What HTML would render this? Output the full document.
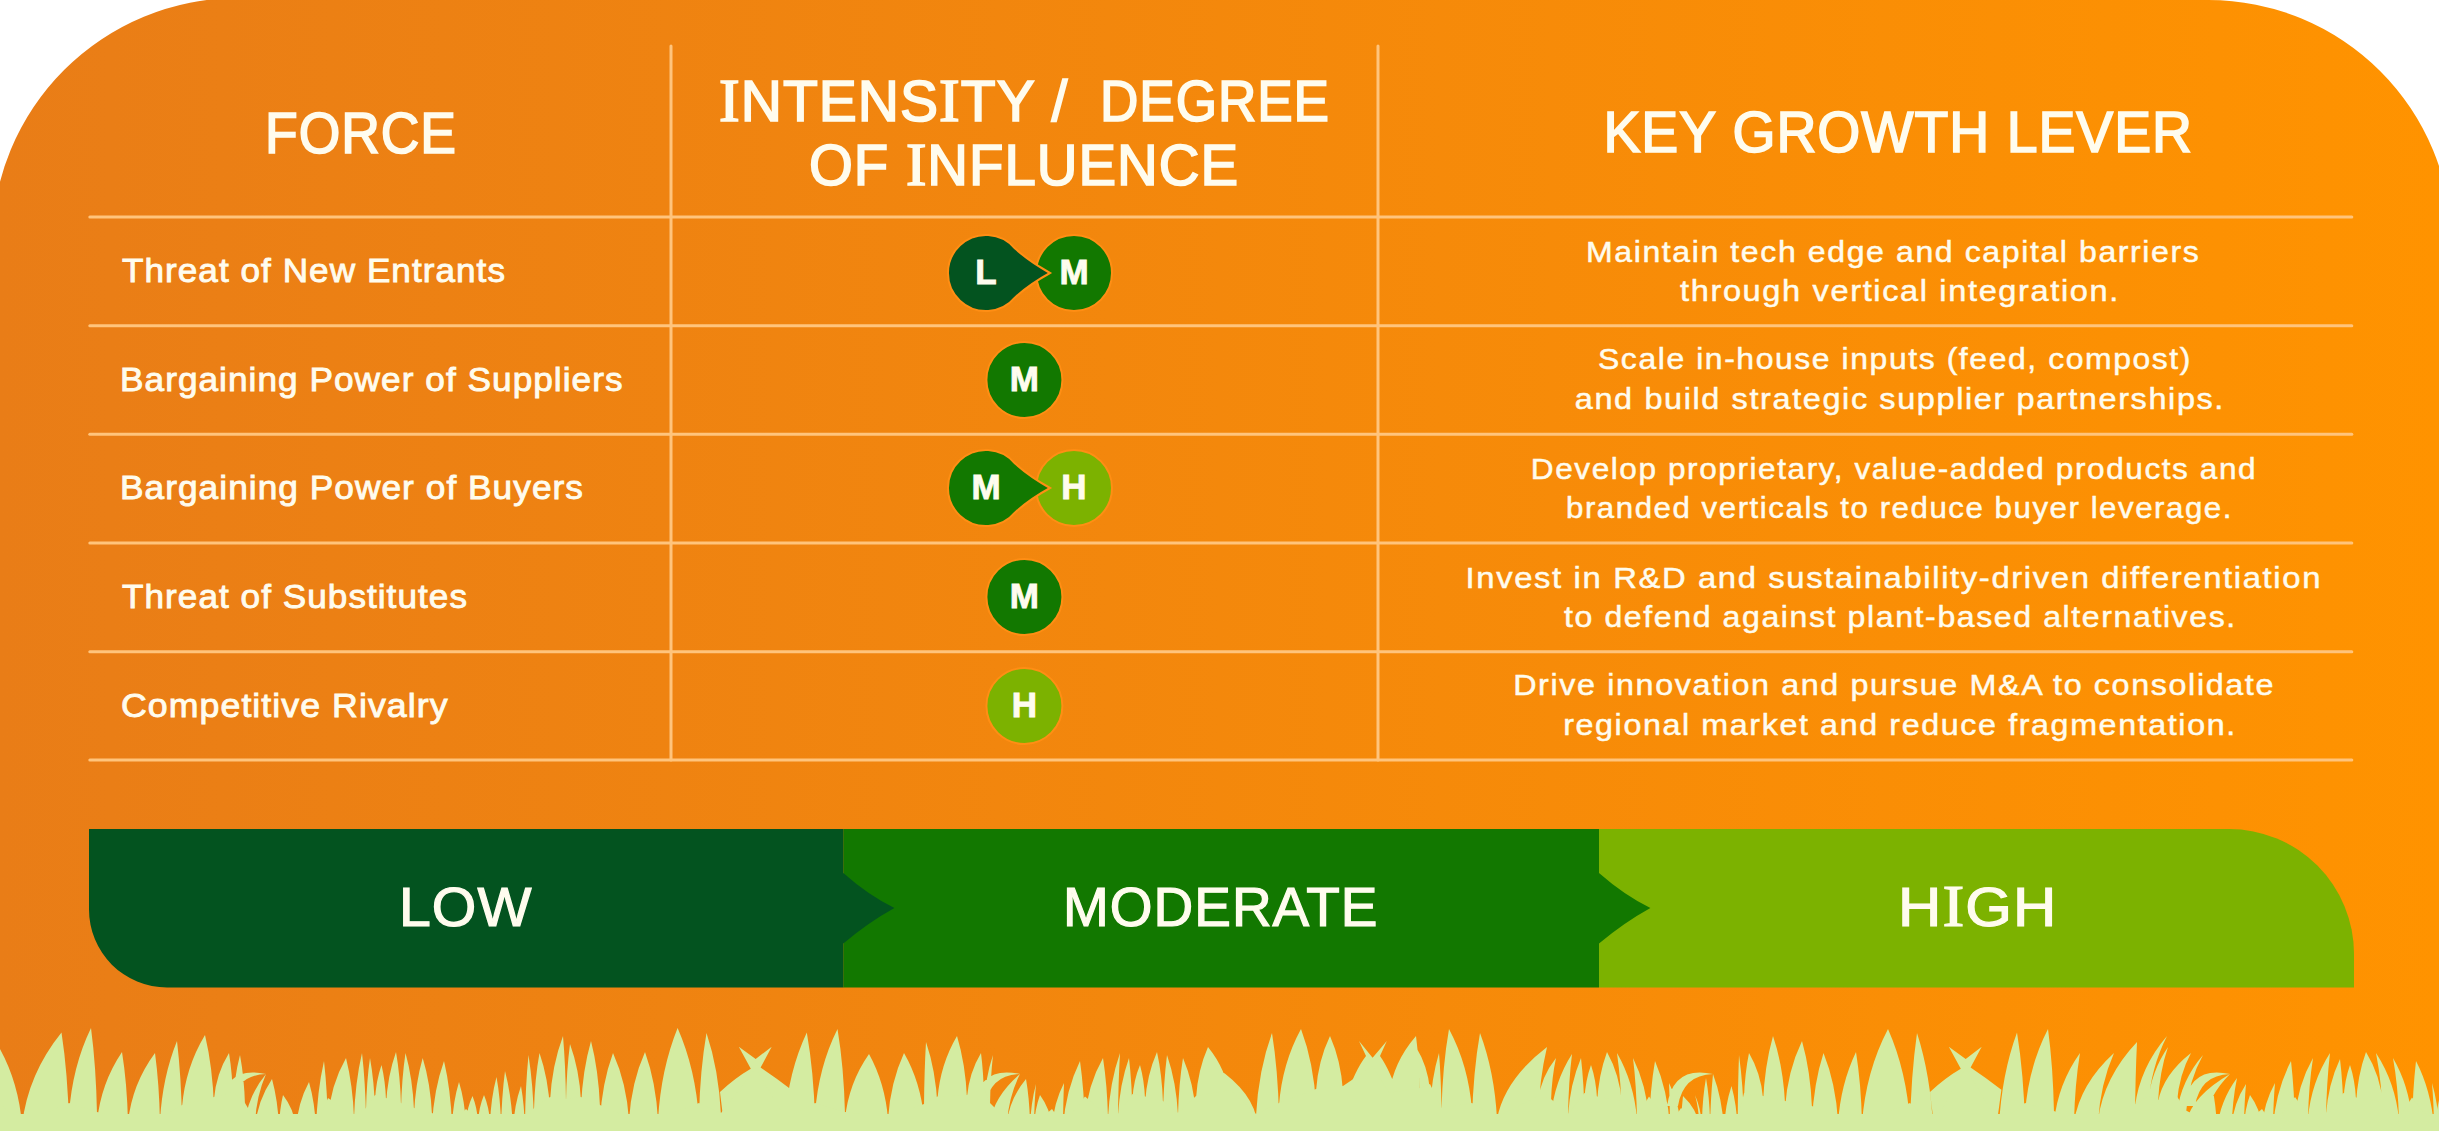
<!DOCTYPE html>
<html><head><meta charset="utf-8"><title>Porter's Five Forces</title>
<style>
html,body{margin:0;padding:0;background:#fff;}
body{width:2439px;height:1131px;overflow:hidden;position:relative;}
svg{position:absolute;left:0;top:0;display:block;}
text{font-family:'Liberation Sans', sans-serif;}
</style></head><body>
<svg width="2439" height="1131" viewBox="0 0 2439 1131">
<defs>
<linearGradient id="bg" x1="0" y1="0" x2="2439" y2="0" gradientUnits="userSpaceOnUse">
<stop offset="0" stop-color="#E97D17"/><stop offset="1" stop-color="#FF9300"/>
</linearGradient>
</defs>

<path d="M -8 244 A 246 246 0 0 1 238 -2 L 2208.5 0 A 243 243 0 0 1 2451.5 243 L 2451.5 1131 L -8 1131 Z" fill="url(#bg)"/>
<line x1="89.8" y1="217" x2="2351.8" y2="217" stroke="#FFC47C" stroke-width="3" stroke-linecap="round"/>
<line x1="89.8" y1="325.7" x2="2351.8" y2="325.7" stroke="#FFC47C" stroke-width="3" stroke-linecap="round"/>
<line x1="89.8" y1="434.3" x2="2351.8" y2="434.3" stroke="#FFC47C" stroke-width="3" stroke-linecap="round"/>
<line x1="89.8" y1="543" x2="2351.8" y2="543" stroke="#FFC47C" stroke-width="3" stroke-linecap="round"/>
<line x1="89.8" y1="651.7" x2="2351.8" y2="651.7" stroke="#FFC47C" stroke-width="3" stroke-linecap="round"/>
<line x1="89.8" y1="760" x2="2351.8" y2="760" stroke="#FFC47C" stroke-width="3" stroke-linecap="round"/>
<line x1="671" y1="46" x2="671" y2="760" stroke="#FFC47C" stroke-width="3" stroke-linecap="round"/>
<line x1="1378" y1="46" x2="1378" y2="760" stroke="#FFC47C" stroke-width="3" stroke-linecap="round"/>
<circle cx="1074" cy="273" r="38" fill="#127800" stroke="#FF8E14" stroke-width="2"/>
<path d="M 1015.1 248.6 Q 1030 262 1050 273 Q 1030 284 1015.1 297.4 A 38 38 0 1 1 1015.1 248.6 Z" fill="#03531F" stroke="#FF8E14" stroke-width="2"/>
<text x="986" y="284" font-size="35" text-anchor="middle" font-weight="700" fill="#FFFCEE" stroke="#FFFCEE" stroke-width="0.9">L</text>
<text x="1074" y="284" font-size="35" text-anchor="middle" font-weight="700" fill="#FFFCEE" stroke="#FFFCEE" stroke-width="0.9">M</text>
<circle cx="1024.4" cy="380" r="38" fill="#127800" stroke="#FF8E14" stroke-width="2"/>
<text x="1024.4" y="391" font-size="35" text-anchor="middle" font-weight="700" fill="#FFFCEE" stroke="#FFFCEE" stroke-width="0.9">M</text>
<circle cx="1074" cy="488" r="38" fill="#7CB200" stroke="#FF8E14" stroke-width="2"/>
<path d="M 1015.1 463.6 Q 1030 477 1050 488 Q 1030 499 1015.1 512.4 A 38 38 0 1 1 1015.1 463.6 Z" fill="#127800" stroke="#FF8E14" stroke-width="2"/>
<text x="986" y="499" font-size="35" text-anchor="middle" font-weight="700" fill="#FFFCEE" stroke="#FFFCEE" stroke-width="0.9">M</text>
<text x="1074" y="499" font-size="35" text-anchor="middle" font-weight="700" fill="#FFFCEE" stroke="#FFFCEE" stroke-width="0.9">H</text>
<circle cx="1024.4" cy="597" r="38" fill="#127800" stroke="#FF8E14" stroke-width="2"/>
<text x="1024.4" y="608" font-size="35" text-anchor="middle" font-weight="700" fill="#FFFCEE" stroke="#FFFCEE" stroke-width="0.9">M</text>
<circle cx="1024.4" cy="706" r="38" fill="#7CB200" stroke="#FF8E14" stroke-width="2"/>
<text x="1024.4" y="717" font-size="35" text-anchor="middle" font-weight="700" fill="#FFFCEE" stroke="#FFFCEE" stroke-width="0.9">H</text>
<path d="M 1599 829 L 2229 829 A 125 125 0 0 1 2354 954 L 2354 987.5 L 1599 987.5 Z" fill="#7CB200"/>
<path d="M 843.3 829 L 1599 829 L 1599 872.9 Q 1624.4 895.2 1650.4 907.9 Q 1624.4 922.2 1599 943.4 L 1599 987.5 L 843.3 987.5 Z" fill="#127800"/>
<path d="M 89 829 L 843.3 829 L 843.3 872.9 Q 868.4 895.2 894.4 907.9 Q 868.4 922.2 843.3 943.4 L 843.3 987.5 L 167 987.5 A 78 78 0 0 1 89 909.5 Z" fill="#03531F"/>
<text id="h1" x="265.00" y="153" font-size="57" font-weight="400" fill="#FFFCEE" stroke="#FFFCEE" stroke-width="1.7" letter-spacing="1.0" textLength="192.00" lengthAdjust="spacingAndGlyphs">FORCE</text>
<text id="h2a" x="719.00" y="120.6" font-size="57" font-weight="400" fill="#FFFCEE" stroke="#FFFCEE" stroke-width="1.7" letter-spacing="1.0" textLength="349.40" lengthAdjust="spacingAndGlyphs"><tspan font-family="Liberation Serif" font-size="62">I</tspan>NTENS<tspan font-family="Liberation Serif" font-size="62">I</tspan>TY /</text>
<text id="h2b" x="1100.00" y="120.6" font-size="57" font-weight="400" fill="#FFFCEE" stroke="#FFFCEE" stroke-width="1.7" letter-spacing="1.0" textLength="230.00" lengthAdjust="spacingAndGlyphs">DEGREE</text>
<text id="h3" x="809.00" y="185" font-size="57" font-weight="400" fill="#FFFCEE" stroke="#FFFCEE" stroke-width="1.7" letter-spacing="1.0" textLength="430.00" lengthAdjust="spacingAndGlyphs">OF <tspan font-family="Liberation Serif" font-size="62">I</tspan>NFLUENCE</text>
<text id="h4" x="1603.40" y="152.3" font-size="57" font-weight="400" fill="#FFFCEE" stroke="#FFFCEE" stroke-width="1.7" letter-spacing="1.0" textLength="589.60" lengthAdjust="spacingAndGlyphs">KEY GROWTH LEVER</text>
<text id="l1" x="122.00" y="281.8" font-size="34" font-weight="400" fill="#FFFCEE" stroke="#FFFCEE" stroke-width="0.9" letter-spacing="1.0" textLength="384.00" lengthAdjust="spacingAndGlyphs">Threat of New Entrants</text>
<text id="l2" x="120.00" y="391" font-size="34" font-weight="400" fill="#FFFCEE" stroke="#FFFCEE" stroke-width="0.9" letter-spacing="1.0" textLength="503.60" lengthAdjust="spacingAndGlyphs">Bargaining Power of Suppliers</text>
<text id="l3" x="120.00" y="498.6" font-size="34" font-weight="400" fill="#FFFCEE" stroke="#FFFCEE" stroke-width="0.9" letter-spacing="1.0" textLength="464.00" lengthAdjust="spacingAndGlyphs">Bargaining Power of Buyers</text>
<text id="l4" x="122.00" y="607.8" font-size="34" font-weight="400" fill="#FFFCEE" stroke="#FFFCEE" stroke-width="0.9" letter-spacing="1.0" textLength="346.00" lengthAdjust="spacingAndGlyphs">Threat of Substitutes</text>
<text id="l5" x="121.00" y="716.6" font-size="34" font-weight="400" fill="#FFFCEE" stroke="#FFFCEE" stroke-width="0.9" letter-spacing="1.0" textLength="327.60" lengthAdjust="spacingAndGlyphs">Competitive Rivalry</text>
<text id="r1a" x="1586.00" y="261.5" font-size="30" font-weight="400" fill="#FFFCEE" stroke="#FFFCEE" stroke-width="0.5" letter-spacing="1.5" textLength="614.40" lengthAdjust="spacingAndGlyphs">Maintain tech edge and capital barriers</text>
<text id="r1b" x="1680.00" y="300.7" font-size="30" font-weight="400" fill="#FFFCEE" stroke="#FFFCEE" stroke-width="0.5" letter-spacing="1.5" textLength="440.00" lengthAdjust="spacingAndGlyphs">through vertical integration.</text>
<text id="r2a" x="1598.00" y="369.2" font-size="30" font-weight="400" fill="#FFFCEE" stroke="#FFFCEE" stroke-width="0.5" letter-spacing="1.5" textLength="594.00" lengthAdjust="spacingAndGlyphs">Scale in-house inputs (feed, compost)</text>
<text id="r2b" x="1574.80" y="408.8" font-size="30" font-weight="400" fill="#FFFCEE" stroke="#FFFCEE" stroke-width="0.5" letter-spacing="1.5" textLength="650.20" lengthAdjust="spacingAndGlyphs">and build strategic supplier partnerships.</text>
<text id="r3a" x="1530.80" y="479" font-size="30" font-weight="400" fill="#FFFCEE" stroke="#FFFCEE" stroke-width="0.5" letter-spacing="1.5" textLength="726.40" lengthAdjust="spacingAndGlyphs">Develop proprietary, value-added products and</text>
<text id="r3b" x="1566.00" y="517.8" font-size="30" font-weight="400" fill="#FFFCEE" stroke="#FFFCEE" stroke-width="0.5" letter-spacing="1.5" textLength="667.00" lengthAdjust="spacingAndGlyphs">branded verticals to reduce buyer leverage.</text>
<text id="r4a" x="1465.60" y="587.8" font-size="30" font-weight="400" fill="#FFFCEE" stroke="#FFFCEE" stroke-width="0.5" letter-spacing="1.5" textLength="856.40" lengthAdjust="spacingAndGlyphs">Invest in R&amp;D and sustainability-driven differentiation</text>
<text id="r4b" x="1564.00" y="626.8" font-size="30" font-weight="400" fill="#FFFCEE" stroke="#FFFCEE" stroke-width="0.5" letter-spacing="1.5" textLength="672.80" lengthAdjust="spacingAndGlyphs">to defend against plant-based alternatives.</text>
<text id="r5a" x="1513.20" y="695.4" font-size="30" font-weight="400" fill="#FFFCEE" stroke="#FFFCEE" stroke-width="0.5" letter-spacing="1.5" textLength="761.80" lengthAdjust="spacingAndGlyphs">Drive innovation and pursue M&amp;A to consolidate</text>
<text id="r5b" x="1563.20" y="735.4" font-size="30" font-weight="400" fill="#FFFCEE" stroke="#FFFCEE" stroke-width="0.5" letter-spacing="1.5" textLength="673.60" lengthAdjust="spacingAndGlyphs">regional market and reduce fragmentation.</text>
<text id="g1" x="399.00" y="926" font-size="55" font-weight="400" fill="#FFFCEE" stroke="#FFFCEE" stroke-width="1.2" letter-spacing="1.0" textLength="133.40" lengthAdjust="spacingAndGlyphs">LOW</text>
<text id="g2" x="1063.00" y="926" font-size="55" font-weight="400" fill="#FFFCEE" stroke="#FFFCEE" stroke-width="1.2" letter-spacing="1.0" textLength="315.40" lengthAdjust="spacingAndGlyphs">MODERATE</text>
<text id="g3" x="1898.00" y="926" font-size="55" font-weight="400" fill="#FFFCEE" stroke="#FFFCEE" stroke-width="1.2" letter-spacing="1.0" textLength="159.40" lengthAdjust="spacingAndGlyphs">H<tspan font-family="Liberation Serif" font-size="60">I</tspan>GH</text>
<path d="M-10.0 1125.0Q-8.5 1083.2 0.0 1049.0Q18.7 1083.2 22.0 1125.0ZM22.0 1125.0Q27.9 1074.1 61.5 1032.5Q67.9 1074.1 69.0 1125.0ZM69.0 1114.0Q72.3 1066.7 91.0 1028.0Q96.1 1066.7 97.0 1114.0ZM97.0 1122.0Q100.8 1083.5 122.0 1052.0Q127.1 1083.5 128.0 1122.0ZM128.0 1122.0Q132.1 1084.0 155.0 1053.0Q159.2 1084.0 160.0 1122.0ZM160.0 1120.0Q162.6 1076.5 177.0 1041.0Q181.2 1076.5 182.0 1120.0ZM182.0 1107.0Q185.4 1067.4 205.0 1035.0Q212.7 1067.4 214.0 1107.0ZM214.0 1099.0Q216.2 1073.7 229.0 1053.0Q232.4 1073.7 233.0 1099.0ZM233.0 1105.0Q234.1 1077.5 240.0 1055.0Q244.2 1077.5 245.0 1105.0ZM245.0 1122.0Q248.2 1095.6 266.0 1074.0Q256.6 1095.6 255.0 1122.0ZM255.0 1127.0Q257.6 1100.6 272.0 1079.0Q277.9 1100.6 279.0 1127.0ZM279.0 1127.0Q279.6 1109.4 283.0 1095.0Q294.1 1109.4 296.0 1127.0ZM296.0 1128.0Q297.9 1102.7 309.0 1082.0Q314.9 1102.7 316.0 1128.0ZM316.0 1128.0Q317.2 1091.2 324.0 1061.0Q327.4 1091.2 328.0 1128.0ZM328.0 1118.0Q330.7 1085.0 346.0 1058.0Q352.8 1085.0 354.0 1118.0ZM354.0 1118.0Q355.2 1082.2 362.0 1053.0Q365.4 1082.2 366.0 1118.0ZM366.0 1110.0Q366.6 1081.4 370.0 1058.0Q374.2 1081.4 375.0 1110.0ZM375.0 1100.0Q376.0 1080.8 381.5 1065.0Q385.3 1080.8 386.0 1100.0ZM386.0 1105.0Q387.5 1075.8 396.0 1052.0Q400.2 1075.8 401.0 1105.0ZM401.0 1110.0Q401.7 1078.7 405.5 1053.0Q412.7 1078.7 414.0 1110.0ZM414.0 1115.0Q415.3 1083.7 422.7 1058.0Q430.6 1083.7 432.0 1115.0ZM432.0 1125.0Q433.8 1089.8 444.0 1061.0Q450.8 1089.8 452.0 1125.0ZM452.0 1125.0Q453.1 1101.3 459.0 1082.0Q464.9 1101.3 466.0 1125.0ZM466.0 1122.0Q467.0 1107.7 472.5 1096.0Q477.2 1107.7 478.0 1122.0ZM478.0 1122.0Q478.9 1107.2 484.0 1095.0Q489.1 1107.2 490.0 1122.0ZM490.0 1123.0Q491.0 1097.7 496.5 1077.0Q500.3 1097.7 501.0 1123.0ZM501.0 1129.0Q501.6 1097.1 505.0 1071.0Q511.8 1097.1 513.0 1129.0ZM513.0 1129.0Q514.2 1105.3 521.0 1086.0Q524.4 1105.3 525.0 1129.0ZM525.0 1122.0Q525.5 1085.2 528.5 1055.0Q533.2 1085.2 534.0 1122.0ZM534.0 1110.0Q534.8 1078.7 539.5 1053.0Q548.4 1078.7 550.0 1110.0ZM550.0 1101.0Q552.0 1065.2 563.0 1036.0Q565.5 1065.2 566.0 1101.0ZM566.0 1101.0Q566.6 1069.7 570.0 1044.0Q579.4 1069.7 581.0 1101.0ZM581.0 1107.0Q582.5 1070.7 591.0 1041.0Q598.6 1070.7 600.0 1107.0ZM600.0 1120.0Q602.0 1083.2 613.0 1053.0Q626.6 1083.2 629.0 1120.0ZM629.0 1120.0Q631.4 1082.6 645.0 1052.0Q656.0 1082.6 658.0 1120.0ZM658.0 1120.0Q660.9 1069.4 677.6 1028.0Q695.8 1069.4 699.0 1120.0ZM699.0 1115.0Q700.1 1069.9 706.5 1033.0Q718.8 1069.9 721.0 1115.0ZM785.0 1120.0Q788.3 1071.9 806.8 1032.5Q813.8 1071.9 815.0 1120.0ZM815.0 1114.0Q818.4 1067.2 837.5 1029.0Q843.9 1067.2 845.0 1114.0ZM845.0 1119.0Q848.6 1083.2 869.0 1054.0Q885.1 1083.2 888.0 1119.0ZM888.0 1119.0Q890.4 1082.7 904.0 1053.0Q921.0 1082.7 924.0 1119.0ZM924.0 1106.0Q924.3 1070.8 926.0 1042.0Q935.8 1070.8 937.5 1106.0ZM937.5 1098.5Q940.4 1064.1 957.0 1036.0Q965.5 1064.1 967.0 1098.5ZM967.0 1097.0Q969.1 1072.8 981.0 1053.0Q983.5 1072.8 984.0 1097.0ZM984.0 1105.0Q985.4 1077.5 993.0 1055.0Q990.5 1077.5 990.0 1105.0ZM990.0 1122.0Q994.5 1095.6 1020.0 1074.0Q1009.0 1095.6 1007.0 1122.0ZM1007.0 1122.0Q1009.9 1098.3 1026.0 1079.0Q1029.4 1098.3 1030.0 1122.0ZM1030.0 1126.0Q1030.9 1102.9 1036.0 1084.0Q1034.3 1102.9 1034.0 1126.0ZM1034.0 1126.0Q1034.9 1109.0 1040.0 1095.0Q1050.2 1109.0 1052.0 1126.0ZM1052.0 1127.0Q1053.8 1102.8 1064.0 1083.0Q1063.2 1102.8 1063.0 1127.0ZM1063.0 1127.0Q1065.5 1090.7 1080.0 1061.0Q1084.2 1090.7 1085.0 1127.0ZM1085.0 1118.0Q1087.7 1085.0 1103.0 1058.0Q1107.2 1085.0 1108.0 1118.0ZM1108.0 1118.0Q1109.8 1082.2 1120.0 1053.0Q1118.3 1082.2 1118.0 1118.0ZM1118.0 1116.0Q1119.7 1084.1 1129.0 1058.0Q1132.0 1084.1 1132.5 1116.0ZM1132.5 1098.5Q1133.6 1080.1 1140.0 1065.0Q1144.2 1080.1 1145.0 1098.5ZM1145.0 1103.0Q1146.8 1075.0 1157.0 1052.0Q1162.1 1075.0 1163.0 1103.0ZM1163.0 1115.0Q1163.6 1082.0 1167.0 1055.0Q1176.3 1082.0 1178.0 1115.0ZM1178.0 1115.0Q1178.8 1083.7 1183.0 1058.0Q1194.0 1083.7 1196.0 1115.0ZM1196.0 1098.0Q1197.8 1070.0 1208.0 1047.0Q1226.7 1070.0 1230.0 1098.0ZM1230.0 1116.0Q1226.4 1085.8 1206.0 1061.0Q1248.5 1085.8 1256.0 1116.0ZM1256.0 1116.0Q1258.4 1070.3 1272.0 1033.0Q1278.0 1070.3 1279.0 1116.0ZM1279.0 1105.0Q1282.3 1063.2 1301.0 1029.0Q1313.8 1063.2 1316.0 1105.0ZM1316.0 1091.0Q1318.1 1060.8 1330.0 1036.0Q1341.0 1060.8 1343.0 1091.0ZM1389.0 1095.0Q1393.0 1062.5 1416.0 1036.0Q1419.4 1062.5 1420.0 1095.0ZM1420.0 1090.0Q1419.4 1066.3 1416.0 1047.0Q1427.9 1066.3 1430.0 1090.0ZM1430.0 1110.0Q1431.3 1078.7 1439.0 1053.0Q1441.1 1078.7 1441.5 1110.0ZM1441.5 1110.0Q1442.6 1065.5 1449.0 1029.0Q1468.5 1065.5 1472.0 1110.0ZM1472.0 1119.0Q1473.2 1071.7 1480.0 1033.0Q1494.5 1071.7 1497.0 1119.0ZM1497.0 1119.0Q1504.5 1079.4 1547.0 1047.0Q1539.3 1079.4 1538.0 1119.0ZM1538.0 1101.0Q1540.7 1077.3 1556.0 1058.0Q1551.8 1077.3 1551.0 1101.0ZM1551.0 1116.0Q1554.2 1081.9 1572.0 1054.0Q1568.6 1081.9 1568.0 1116.0ZM1568.0 1116.0Q1570.0 1084.1 1581.0 1058.0Q1584.0 1084.1 1584.5 1116.0ZM1584.5 1098.5Q1585.5 1080.1 1591.0 1065.0Q1596.1 1080.1 1597.0 1098.5ZM1597.0 1103.0Q1598.5 1075.0 1607.0 1052.0Q1619.8 1075.0 1622.0 1103.0ZM1622.0 1119.0Q1621.2 1082.7 1617.0 1053.0Q1634.0 1082.7 1637.0 1119.0ZM1637.0 1119.0Q1636.4 1085.5 1633.0 1058.0Q1646.6 1085.5 1649.0 1119.0ZM1649.0 1127.0Q1649.9 1090.7 1655.0 1061.0Q1667.8 1090.7 1670.0 1127.0ZM1670.0 1127.0Q1669.8 1102.8 1669.0 1083.0Q1679.2 1102.8 1681.0 1127.0ZM1681.0 1125.5Q1681.3 1109.3 1683.0 1096.0Q1697.0 1109.3 1699.5 1125.5ZM1699.5 1125.5Q1698.8 1108.7 1695.0 1095.0Q1701.0 1108.7 1702.0 1125.5ZM1702.0 1120.0Q1702.6 1096.9 1706.0 1078.0Q1709.4 1096.9 1710.0 1120.0ZM1710.0 1129.0Q1710.5 1098.8 1713.0 1074.0Q1722.3 1098.8 1724.0 1129.0ZM1724.0 1129.0Q1725.1 1105.3 1731.5 1086.0Q1736.8 1105.3 1737.7 1129.0ZM1737.7 1122.0Q1737.9 1085.2 1739.0 1055.0Q1743.2 1085.2 1744.0 1122.0ZM1744.0 1098.0Q1744.8 1073.2 1749.0 1053.0Q1760.9 1073.2 1763.0 1098.0ZM1763.0 1103.0Q1764.5 1066.2 1773.0 1036.0Q1783.2 1066.2 1785.0 1103.0ZM1785.0 1108.0Q1787.5 1071.2 1802.0 1041.0Q1810.5 1071.2 1812.0 1108.0ZM1812.0 1121.0Q1813.7 1083.6 1823.5 1053.0Q1835.8 1083.6 1838.0 1121.0ZM1838.0 1123.0Q1840.7 1084.0 1856.0 1052.0Q1861.1 1084.0 1862.0 1123.0ZM1862.0 1123.0Q1865.9 1071.3 1888.0 1029.0Q1906.7 1071.3 1910.0 1123.0ZM1910.0 1127.0Q1911.0 1075.3 1917.0 1033.0Q1930.6 1075.3 1933.0 1127.0ZM1999.0 1125.5Q2001.7 1074.3 2017.0 1032.5Q2023.8 1074.3 2025.0 1125.5ZM2025.0 1113.0Q2028.5 1066.8 2048.0 1029.0Q2053.1 1066.8 2054.0 1113.0ZM2054.0 1122.0Q2057.9 1084.0 2080.0 1053.0Q2074.9 1084.0 2074.0 1122.0ZM2074.0 1122.0Q2080.0 1084.0 2114.0 1053.0Q2100.4 1084.0 2098.0 1122.0ZM2098.0 1120.0Q2103.8 1077.1 2137.0 1042.0Q2135.3 1077.1 2135.0 1120.0ZM2135.0 1106.5Q2139.8 1067.7 2167.0 1036.0Q2150.8 1067.7 2148.0 1106.5ZM2148.0 1102.0Q2151.0 1071.8 2168.0 1047.0Q2159.5 1071.8 2158.0 1102.0ZM2158.0 1102.0Q2162.9 1075.0 2191.0 1053.0Q2179.1 1075.0 2177.0 1102.0ZM2177.0 1112.6Q2180.9 1080.9 2203.0 1055.0Q2188.6 1080.9 2186.0 1112.6ZM2186.0 1122.0Q2192.6 1095.6 2230.0 1074.0Q2208.3 1095.6 2204.5 1122.0ZM2204.5 1129.0Q2205.6 1105.3 2212.0 1086.0Q2216.2 1105.3 2217.0 1129.0ZM2217.0 1129.0Q2220.0 1101.0 2237.0 1078.0Q2232.3 1101.0 2231.5 1129.0ZM2231.5 1126.0Q2233.7 1102.9 2246.0 1084.0Q2244.3 1102.9 2244.0 1126.0ZM2244.0 1126.0Q2244.9 1109.0 2250.0 1095.0Q2260.2 1109.0 2262.0 1126.0ZM2262.0 1127.0Q2263.9 1102.8 2275.0 1083.0Q2273.3 1102.8 2273.0 1127.0ZM2273.0 1127.0Q2275.7 1090.7 2291.0 1061.0Q2294.4 1090.7 2295.0 1127.0ZM2295.0 1118.0Q2297.7 1085.0 2313.0 1058.0Q2308.8 1085.0 2308.0 1118.0ZM2308.0 1118.0Q2311.3 1082.2 2330.0 1053.0Q2326.6 1082.2 2326.0 1118.0ZM2326.0 1115.0Q2328.1 1084.2 2340.0 1059.0Q2343.0 1084.2 2343.5 1115.0ZM2343.5 1099.5Q2344.5 1080.5 2350.0 1065.0Q2355.1 1080.5 2356.0 1099.5ZM2356.0 1104.0Q2357.5 1075.4 2366.0 1052.0Q2380.4 1075.4 2383.0 1104.0ZM2383.0 1120.0Q2381.9 1083.2 2376.0 1053.0Q2395.6 1083.2 2399.0 1120.0ZM2399.0 1120.0Q2398.1 1085.9 2393.0 1058.0Q2409.2 1085.9 2412.0 1120.0ZM2412.0 1127.0Q2412.6 1090.7 2416.0 1061.0Q2431.3 1090.7 2434.0 1127.0ZM2434.0 1127.0Q2433.7 1102.8 2432.0 1083.0Q2437.9 1102.8 2439.0 1127.0ZM2439.0 1110.0Q2439.9 1082.5 2445.0 1060.0Q2449.2 1082.5 2450.0 1110.0ZM723 1117L720 1092Q735 1078 750.8 1068.8L738.8 1046.7L755.7 1059L771.7 1046.7L760.6 1067.6Q776 1078 791.4 1089.7L787.7 1117ZM1933 1117L1930 1092Q1945 1078 1960.8 1068.8L1948.8 1046.7L1965.7 1059L1981.7 1046.7L1970.6 1067.6Q1986 1078 2001.4 1089.7L1997.7 1117ZM1345 1100Q1355 1070 1366 1056L1359 1041L1372.6 1057.7L1386.8 1041L1380 1056Q1390 1070 1400 1100ZM220 1106Q226 1065 266 1074Q236 1075 231 1106ZM974 1106Q980 1065 1020 1074Q990 1075 985 1106ZM1667 1106Q1673 1065 1713 1074Q1683 1075 1678 1106ZM2184 1106Q2190 1065 2230 1074Q2200 1075 2195 1106Z" fill="#D4ECA1"/>
<path d="M-5.0 1131.0L-5.0 1100.0L22.0 1123.0L69.0 1103.0L97.0 1112.0L128.0 1120.0L160.0 1118.0L182.0 1105.0L214.0 1097.0L233.0 1092.0L245.0 1103.0L255.0 1120.0L279.0 1125.0L296.0 1120.0L316.0 1126.0L328.0 1098.0L354.0 1116.0L366.0 1108.0L375.0 1095.0L386.0 1098.0L401.0 1103.0L414.0 1108.0L432.0 1113.0L452.0 1123.0L466.0 1109.0L478.0 1120.0L490.0 1114.0L501.0 1121.0L513.0 1127.0L525.0 1120.0L534.0 1108.0L550.0 1097.0L566.0 1099.0L581.0 1097.0L600.0 1105.0L629.0 1118.0L658.0 1118.0L699.0 1103.0L721.0 1113.0L755.7 1068.0L785.0 1118.0L815.0 1103.0L845.0 1112.0L888.0 1117.0L924.0 1104.0L937.5 1096.5L967.0 1095.0L984.0 1088.0L990.0 1103.0L1007.0 1120.0L1030.0 1118.0L1034.0 1124.0L1052.0 1109.0L1063.0 1125.0L1085.0 1096.5L1108.0 1116.0L1118.0 1114.0L1132.5 1094.0L1145.0 1096.5L1163.0 1101.0L1178.0 1113.0L1196.0 1096.0L1230.0 1090.0L1256.0 1114.0L1279.0 1103.0L1316.0 1089.0L1343.0 1086.0L1372.6 1066.0L1389.0 1093.0L1420.0 1088.0L1430.0 1084.0L1441.5 1108.0L1472.0 1103.0L1497.0 1117.0L1538.0 1096.0L1551.0 1099.0L1568.0 1114.0L1584.5 1093.0L1597.0 1096.5L1622.0 1101.0L1637.0 1117.0L1649.0 1096.5L1670.0 1125.0L1681.0 1108.0L1699.5 1123.5L1702.0 1114.0L1710.0 1118.0L1724.0 1127.0L1737.7 1120.0L1744.0 1093.0L1763.0 1096.0L1785.0 1101.0L1812.0 1106.0L1838.0 1119.0L1862.0 1121.0L1910.0 1103.0L1933.0 1125.0L1965.5 1068.0L1999.0 1123.5L2025.0 1103.0L2054.0 1111.0L2074.0 1120.0L2098.0 1118.0L2135.0 1104.5L2148.0 1096.0L2158.0 1100.0L2177.0 1096.5L2186.0 1110.6L2204.5 1120.0L2217.0 1127.0L2231.5 1121.0L2244.0 1124.0L2262.0 1109.0L2273.0 1125.0L2295.0 1097.0L2308.0 1116.0L2326.0 1113.0L2343.5 1093.0L2356.0 1097.5L2383.0 1102.0L2399.0 1118.0L2412.0 1097.5L2434.0 1125.0L2439.0 1100.0L2450.0 1108.0L2450.0 1100.0L2450.0 1131.0Z" fill="#D4ECA1"/>
<rect x="0" y="1114" width="2439" height="17" fill="#D4ECA1"/>
</svg></body></html>
